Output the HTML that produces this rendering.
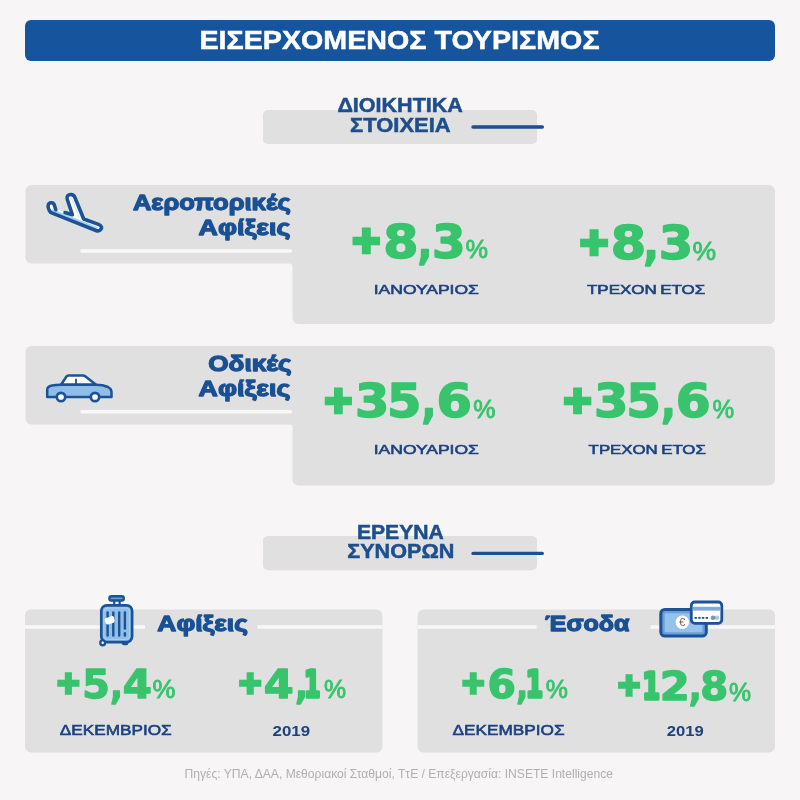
<!DOCTYPE html>
<html lang="el">
<head>
<meta charset="utf-8">
<title>Εισερχόμενος Τουρισμός</title>
<style>
  html, body { margin: 0; padding: 0; background: #f7f5f5; }
  body { width: 800px; height: 800px; overflow: hidden; }
  svg { display: block; }
  text { font-family: "Liberation Sans", sans-serif; }
  .hdr { font-weight: 700; fill: #ffffff; stroke: #ffffff; stroke-width: 0.5px; }
  .sec { font-weight: 700; fill: #1d4e8d; stroke: #1d4e8d; stroke-width: 0.5px; }
  .ttl { font-weight: 700; fill: #1a5094; stroke: #1a5094; stroke-width: 1.3px; stroke-linejoin: round; }
  .num { font-family: "DejaVu Sans", "Liberation Sans", sans-serif; font-weight: 700; fill: #38c46d; stroke: #38c46d; stroke-width: 1.6px; stroke-linejoin: round; }
  .numb { font-family: "DejaVu Sans", "Liberation Sans", sans-serif; font-weight: 700; fill: #38c46d; stroke: #38c46d; stroke-width: 1.4px; stroke-linejoin: round; }
  .pct { font-weight: 400; fill: #38c46d; stroke: #38c46d; stroke-width: 0.9px; }
  .lbl { font-weight: 400; fill: #1c4280; stroke: #1c4280; stroke-width: 0.6px; }
  .yr  { font-weight: 700; fill: #1c4280; }
  .ftr { font-weight: 400; fill: #b0b0b0; }
</style>
</head>
<body>
<svg width="800" height="800" viewBox="0 0 800 800">
  <rect x="0" y="0" width="800" height="800" fill="#f7f5f5"/>

  <!-- header -->
  <rect x="25" y="20" width="750" height="41" rx="6" ry="6" fill="#17549e"/>
  <text class="hdr" x="199.42" y="48.5" font-size="26.5" textLength="400.20" lengthAdjust="spacingAndGlyphs">ΕΙΣΕΡΧΟΜΕΝΟΣ ΤΟΥΡΙΣΜΟΣ</text>

  <!-- section label 1 -->
  <rect x="263" y="110" width="274" height="34" rx="5" ry="5" fill="#e0e0e0"/>
  <text class="sec" x="337.40" y="112.1" font-size="19.4" textLength="125.50" lengthAdjust="spacingAndGlyphs">ΔΙΟΙΚΗΤΙΚΑ</text>
  <text class="sec" x="350.02" y="132.4" font-size="19.4" textLength="100.60" lengthAdjust="spacingAndGlyphs">ΣΤΟΙΧΕΙΑ</text>
  <line x1="473" y1="127.100" x2="542.300" y2="127.100" stroke="#1d4e8d" stroke-width="3.500" stroke-linecap="round"/>

  <!-- panel 1 -->
  <path d="M31.500 185 H769 a6 6 0 0 1 6 6 V318 a6 6 0 0 1 -6 6 H298.500 a6 6 0 0 1 -6 -6 V266.500 a3 3 0 0 0 -3 -3 H31.500 a6 6 0 0 1 -6 -6 V191 a6 6 0 0 1 6 -6 Z" fill="#e0e0e0"/>
  <line x1="82" y1="250.900" x2="290.500" y2="250.900" stroke="#f8f8f8" stroke-width="3.500" stroke-linecap="round"/>

  <!-- plane icon -->
  <g fill="none" stroke-linecap="round" stroke-linejoin="round">
    <path d="M55.800 209.700 L54.400 205.300 C53.500 202.300 49.500 201.800 48.300 204.800 C47.500 207 49 210 50.500 212.300 L96 230.500 C99.800 232 102.500 228.500 101 226.300 C100.500 225.300 99.500 224.800 98.500 224.400 L83.700 219 L74.800 197.300 C73.800 194.200 69.500 193.800 67.700 195.800 C66.700 197 66.700 198.200 67.200 199.200 L72.400 214.700 L65 212.600 L55.500 209 Z" fill="#ffffff" stroke="none"/>
    <path d="M52.500 210.300 L96.500 227.800" stroke="#a6d4f2" stroke-width="2"/>
    <path d="M71.500 198 L79 217.500" stroke="#d9eefb" stroke-width="1.500"/>
    <path d="M55.800 209.700 L54.400 205.300 C53.500 202.300 49.500 201.800 48.300 204.800 C47.500 207 49 210 50.500 212.300 L96 230.500 C99.800 232 102.500 228.500 101 226.300 C100.500 225.300 99.500 224.800 98.500 224.400 L83.700 219 L74.800 197.300 C73.800 194.200 69.500 193.800 67.700 195.800 C66.700 197 66.700 198.200 67.200 199.200 L72.400 214.700 L65 212.600" stroke="#1b5396" stroke-width="3.600"/>
  </g>
  <text class="ttl" x="132.90" y="210" font-size="22.3" textLength="157.82" lengthAdjust="spacingAndGlyphs">Αεροπορικές</text>
  <text class="ttl" x="198.61" y="235" font-size="22.3" textLength="91.73" lengthAdjust="spacingAndGlyphs">Αφίξεις</text>

  <text class="num" y="257.5" font-size="46.8"><tspan x="351.01" textLength="30.61" lengthAdjust="spacingAndGlyphs" font-size="35.4" stroke-width="4.5" stroke-linejoin="miter" dy="-5.5">+</tspan><tspan x="383.32" textLength="35.23" lengthAdjust="spacingAndGlyphs" dy="5.5">8</tspan><tspan x="417.38" textLength="14.79" lengthAdjust="spacingAndGlyphs">,</tspan><tspan x="432.06" textLength="33.59" lengthAdjust="spacingAndGlyphs">3</tspan></text>
  <text class="pct" x="465.60" y="258.4" font-size="26" textLength="22.50" lengthAdjust="spacingAndGlyphs">%</text>
  <text class="lbl" x="373.75" y="294.2" font-size="13.4" textLength="105.14" lengthAdjust="spacingAndGlyphs">ΙΑΝΟΥΑΡΙΟΣ</text>

  <text class="num" y="259.1" font-size="47"><tspan x="578.41" textLength="31.19" lengthAdjust="spacingAndGlyphs" font-size="35.6" stroke-width="4.5" stroke-linejoin="miter" dy="-5.5">+</tspan><tspan x="610.70" textLength="35.38" lengthAdjust="spacingAndGlyphs" dy="5.5">8</tspan><tspan x="643.31" textLength="15.72" lengthAdjust="spacingAndGlyphs">,</tspan><tspan x="658.71" textLength="34.38" lengthAdjust="spacingAndGlyphs">3</tspan></text>
  <text class="pct" x="692.58" y="259.7" font-size="26" textLength="23.63" lengthAdjust="spacingAndGlyphs">%</text>
  <text class="lbl" x="586.96" y="294.2" font-size="13.4" textLength="118.24" lengthAdjust="spacingAndGlyphs" word-spacing="-1">ΤΡΕΧΟΝ ΕΤΟΣ</text>

  <!-- panel 2 -->
  <path d="M31.500 346 H769 a6 6 0 0 1 6 6 V479.500 a6 6 0 0 1 -6 6 H298.500 a6 6 0 0 1 -6 -6 V427.500 a3 3 0 0 0 -3 -3 H31.500 a6 6 0 0 1 -6 -6 V352 a6 6 0 0 1 6 -6 Z" fill="#e0e0e0"/>
  <line x1="82" y1="411.700" x2="290.500" y2="411.700" stroke="#f8f8f8" stroke-width="3.500" stroke-linecap="round"/>

  <!-- car icon -->
  <g stroke="#1b5396" stroke-width="2.500" stroke-linejoin="round" stroke-linecap="round">
    <path d="M61 384.800 L66.500 376.500 Q67.200 375.500 68.500 375.500 H83 Q84.200 375.500 85.200 376.200 L96 384.800 Z" fill="#ffffff"/>
    <path d="M47.200 397 V390 Q47.200 386.500 52 385.600 Q56 384.800 61 384.800 H96 Q103 384.800 108 387 Q111.500 388.800 111.500 392 V397 Z" fill="#8fbfe9"/>
    <line x1="76" y1="379.500" x2="76" y2="384" stroke-width="1.800"/>
    <circle cx="61" cy="397" r="4.200" fill="#ffffff" stroke-width="2.700"/>
    <circle cx="95" cy="397" r="4.200" fill="#ffffff" stroke-width="2.700"/>
  </g>
  <text class="ttl" x="208.31" y="371.3" font-size="22.3" textLength="83.29" lengthAdjust="spacingAndGlyphs">Οδικές</text>
  <text class="ttl" x="198.61" y="395.9" font-size="22.3" textLength="91.73" lengthAdjust="spacingAndGlyphs">Αφίξεις</text>

  <text class="num" y="417.3" font-size="46.9"><tspan x="323.23" textLength="30.24" lengthAdjust="spacingAndGlyphs" font-size="35.4" stroke-width="4.5" stroke-linejoin="miter" dy="-5.5">+</tspan><tspan x="355.01" textLength="34.37" lengthAdjust="spacingAndGlyphs" dy="5.5">3</tspan><tspan x="387.00" textLength="34.42" lengthAdjust="spacingAndGlyphs">5</tspan><tspan x="421.46" textLength="14.80" lengthAdjust="spacingAndGlyphs">,</tspan><tspan x="436.42" textLength="35.49" lengthAdjust="spacingAndGlyphs">6</tspan></text>
  <text class="pct" x="473.37" y="418.4" font-size="26" textLength="22.22" lengthAdjust="spacingAndGlyphs">%</text>
  <text class="lbl" x="373.75" y="454.2" font-size="13.4" textLength="105.14" lengthAdjust="spacingAndGlyphs">ΙΑΝΟΥΑΡΙΟΣ</text>

  <text class="num" y="417.3" font-size="46.9"><tspan x="562.30" textLength="30.61" lengthAdjust="spacingAndGlyphs" font-size="35.4" stroke-width="4.5" stroke-linejoin="miter" dy="-5.5">+</tspan><tspan x="593.90" textLength="34.38" lengthAdjust="spacingAndGlyphs" dy="5.5">3</tspan><tspan x="626.29" textLength="34.68" lengthAdjust="spacingAndGlyphs">5</tspan><tspan x="660.96" textLength="14.85" lengthAdjust="spacingAndGlyphs">,</tspan><tspan x="675.73" textLength="34.91" lengthAdjust="spacingAndGlyphs">6</tspan></text>
  <text class="pct" x="712.48" y="418.4" font-size="26" textLength="21.65" lengthAdjust="spacingAndGlyphs">%</text>
  <text class="lbl" x="588.62" y="454.2" font-size="13.4" textLength="117.21" lengthAdjust="spacingAndGlyphs" word-spacing="-1">ΤΡΕΧΟΝ ΕΤΟΣ</text>

  <!-- section label 2 -->
  <rect x="263" y="535.900" width="274" height="34.400" rx="5" ry="5" fill="#e0e0e0"/>
  <text class="sec" x="356.92" y="538.5" font-size="19.4" textLength="86.95" lengthAdjust="spacingAndGlyphs">ΕΡΕΥΝΑ</text>
  <text class="sec" x="347.23" y="558.2" font-size="19.4" textLength="107.09" lengthAdjust="spacingAndGlyphs">ΣΥΝΟΡΩΝ</text>
  <line x1="473" y1="553.400" x2="542.300" y2="553.400" stroke="#1d4e8d" stroke-width="3.300" stroke-linecap="round"/>

  <!-- bottom-left panel -->
  <rect x="25" y="609.500" width="357.500" height="143" rx="6" ry="6" fill="#e0e0e0"/>
  <line x1="25" y1="627" x2="145" y2="627" stroke="#f8f8f8" stroke-width="3.500"/>
  <line x1="257.500" y1="627" x2="382.500" y2="627" stroke="#f8f8f8" stroke-width="3.500"/>

  <!-- suitcase icon -->
  <g stroke="#1b5396" stroke-width="2.700" stroke-linejoin="round" stroke-linecap="round">
    <rect x="121.800" y="641" width="6.500" height="4.300" rx="2" fill="#1b5396" stroke="none"/>
    <line x1="114.200" y1="601" x2="114.200" y2="604.500" stroke-width="2.200"/>
    <line x1="119.600" y1="601" x2="119.600" y2="604.500" stroke-width="2.200"/>
    <rect x="109.400" y="596.300" width="14.400" height="4.200" rx="2.100" fill="#5f9fe0" stroke-width="2.400"/>
    <rect x="101.300" y="605.300" width="30.800" height="36.800" rx="5.500" fill="#8fbfe9"/>
    <rect x="103.900" y="608" width="25.600" height="31.400" rx="3.500" fill="none" stroke="#a9cfef" stroke-width="1"/>
    <line x1="107.600" y1="612.500" x2="107.600" y2="635.500" stroke-width="2.400"/>
    <line x1="113.300" y1="612.500" x2="113.300" y2="635.500" stroke-width="2.400"/>
    <line x1="119.200" y1="612.500" x2="119.200" y2="635.500" stroke-width="2.400"/>
    <line x1="124.900" y1="612.500" x2="124.900" y2="628.500" stroke-width="2.400"/>
    <line x1="124.900" y1="633.300" x2="124.900" y2="635.500" stroke-width="2.400"/>
    <path d="M105.600 618.300 L111.800 616.100 Q113.300 615.800 113.800 617.100 L114.700 620.600 Q114.900 622.200 113.600 622.700 L108 624.400 Q106.300 624.700 105.700 623.300 L104.700 620 Q104.500 618.800 105.600 618.300 Z" fill="#ffffff" stroke="none"/>
    <circle cx="102.700" cy="642.800" r="2.400" fill="#ffffff" stroke-width="2.400"/>
  </g>
  <text class="ttl" x="157.37" y="630.7" font-size="22.6" textLength="90.57" lengthAdjust="spacingAndGlyphs">Αφίξεις</text>

  <text class="numb" y="698" font-size="39.6"><tspan x="56.00" textLength="24.81" lengthAdjust="spacingAndGlyphs" font-size="29.4" stroke-width="3.6" stroke-linejoin="miter" dy="-5.2">+</tspan><tspan x="82.18" textLength="27.58" lengthAdjust="spacingAndGlyphs" dy="5.2">5</tspan><tspan x="109.99" textLength="12.91" lengthAdjust="spacingAndGlyphs">,</tspan><tspan x="122.69" textLength="29.22" lengthAdjust="spacingAndGlyphs">4</tspan></text>
  <text class="pct" x="152.57" y="698.4" font-size="26" textLength="22.96" lengthAdjust="spacingAndGlyphs">%</text>
  <text class="lbl" x="59.79" y="735.4" font-size="14.4" textLength="111.92" lengthAdjust="spacingAndGlyphs">ΔΕΚΕΜΒΡΙΟΣ</text>

  <text class="numb" y="698" font-size="39.6"><tspan x="237.74" textLength="24.92" lengthAdjust="spacingAndGlyphs" font-size="29.4" stroke-width="3.6" stroke-linejoin="miter" dy="-5.2">+</tspan><tspan x="263.73" textLength="29.94" lengthAdjust="spacingAndGlyphs" dy="5.2">4</tspan><tspan x="294.95" textLength="12.90" lengthAdjust="spacingAndGlyphs">,</tspan><tspan x="303.93" textLength="16.51" lengthAdjust="spacingAndGlyphs" font-size="36.8" stroke-width="3.6" dy="-1.1">1</tspan></text>
  <text class="pct" x="323.95" y="697.8" font-size="26" textLength="22.07" lengthAdjust="spacingAndGlyphs">%</text>
  <text class="yr" x="272.54" y="735.6" font-size="14.8" textLength="37.50" lengthAdjust="spacingAndGlyphs">2019</text>

  <!-- bottom-right panel -->
  <rect x="417.500" y="609.500" width="357.500" height="143" rx="6" ry="6" fill="#e0e0e0"/>
  <line x1="417.500" y1="627" x2="536.500" y2="627" stroke="#f7f7f7" stroke-width="3.500"/>
  <line x1="650.500" y1="627" x2="775" y2="627" stroke="#f7f7f7" stroke-width="3.500"/>

  <!-- money + card icon -->
  <g stroke="#1b5396" stroke-linejoin="round">
    <rect x="660.800" y="609.500" width="45.500" height="26.500" rx="4" fill="#6b9fd6" stroke-width="3"/>
    <rect x="664.700" y="613.200" width="37.700" height="19.100" rx="1" fill="#93c2ea" stroke="none"/>
    <circle cx="682.300" cy="622.300" r="6.700" fill="#ffffff" stroke="none"/>
    <rect x="691.300" y="602" width="30.500" height="21.300" rx="3.500" fill="#ffffff" stroke-width="2.800"/>
    <rect x="692.700" y="606.800" width="27.700" height="3.800" fill="#7fa9d6" stroke="none"/>
    <line x1="694.500" y1="617.800" x2="708.500" y2="617.800" stroke-width="1.800" stroke-dasharray="2.400 1.300"/>
    <circle cx="716.800" cy="617.800" r="2.300" fill="#a9c8e6" stroke="none"/>
    <circle cx="713" cy="617.800" r="2.300" fill="#6f95bd" stroke="none"/>
  </g>
  <text x="682.300" y="626.400" font-size="11.500" text-anchor="middle" fill="#7d5f55" font-weight="400">€</text>
  <text class="ttl" x="545.02" y="630.7" font-size="22.6" textLength="84.43" lengthAdjust="spacingAndGlyphs">Έσοδα</text>

  <text class="numb" y="698" font-size="39.7"><tspan x="461.08" textLength="24.53" lengthAdjust="spacingAndGlyphs" font-size="29.4" stroke-width="3.6" stroke-linejoin="miter" dy="-5.2">+</tspan><tspan x="487.53" textLength="28.38" lengthAdjust="spacingAndGlyphs" dy="5.2">6</tspan><tspan x="516.35" textLength="11.82" lengthAdjust="spacingAndGlyphs">,</tspan><tspan x="525.66" textLength="17.32" lengthAdjust="spacingAndGlyphs" font-size="36.9" stroke-width="3.6" dy="-1.1">1</tspan></text>
  <text class="pct" x="545.85" y="697.8" font-size="26" textLength="22.16" lengthAdjust="spacingAndGlyphs">%</text>
  <text class="lbl" x="452.61" y="735.4" font-size="14.4" textLength="111.94" lengthAdjust="spacingAndGlyphs">ΔΕΚΕΜΒΡΙΟΣ</text>

  <text class="numb" y="700.2" font-size="39.7"><tspan x="616.79" textLength="24.67" lengthAdjust="spacingAndGlyphs" font-size="29.4" stroke-width="3.6" stroke-linejoin="miter" dy="-4.9">+</tspan><tspan x="642.33" textLength="17.79" lengthAdjust="spacingAndGlyphs" font-size="36.9" stroke-width="3.6" dy="3.8">1</tspan><tspan x="659.77" textLength="30.04" lengthAdjust="spacingAndGlyphs" dy="1.1">2</tspan><tspan x="688.63" textLength="12.87" lengthAdjust="spacingAndGlyphs">,</tspan><tspan x="700.23" textLength="27.98" lengthAdjust="spacingAndGlyphs">8</tspan></text>
  <text class="pct" x="728.95" y="700.7" font-size="26" textLength="22.07" lengthAdjust="spacingAndGlyphs">%</text>
  <text class="yr" x="666.80" y="735.6" font-size="14.8" textLength="36.96" lengthAdjust="spacingAndGlyphs">2019</text>

  <!-- footer -->
  <text class="ftr" x="184.52" y="778" font-size="11.9" textLength="428.48" lengthAdjust="spacingAndGlyphs">Πηγές: ΥΠΑ, ΔΑΑ, Μεθοριακοί Σταθμοί, ΤτΕ / Επεξεργασία: INSETE Intelligence</text>
</svg>
</body>
</html>
